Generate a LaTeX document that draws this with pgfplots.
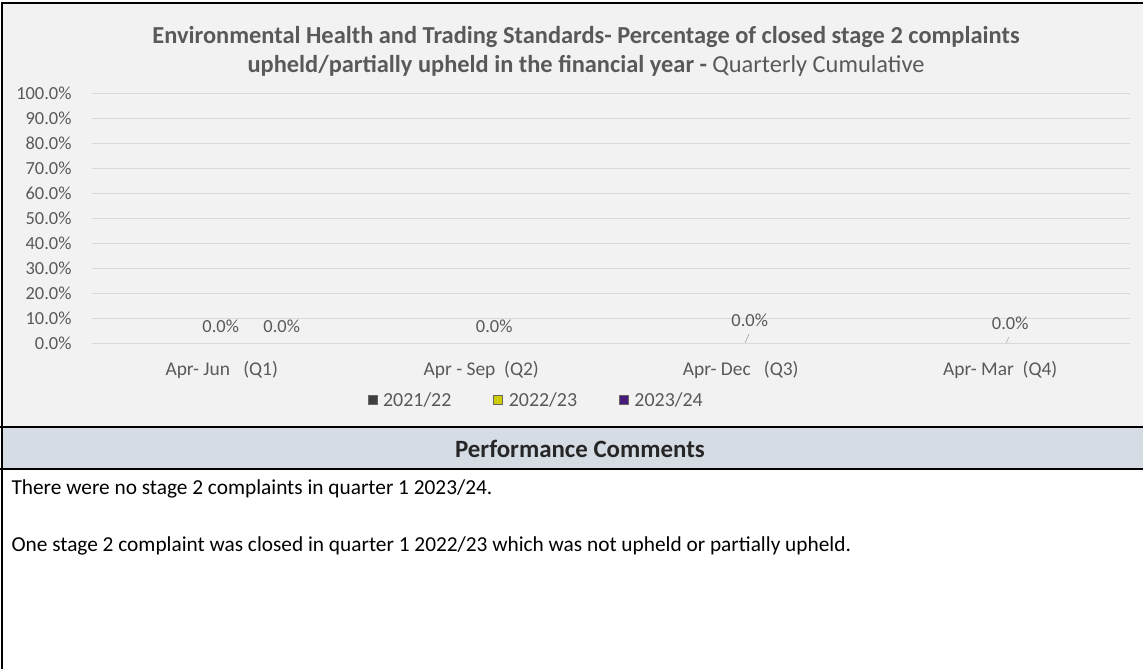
\documentclass[border=0pt]{standalone}
\usepackage{pgfplots}
\pgfplotsset{compat=1.18}
\usepackage{pgfplotstable}
\usepackage{fontspec}
\setmainfont{Carlito}
\definecolor{txt}{HTML}{595959}
\definecolor{bg}{HTML}{F2F2F2}
\definecolor{band}{HTML}{D6DCE4}
\definecolor{gridc}{HTML}{D9D9D9}
\definecolor{sA}{HTML}{404040}
\definecolor{sB}{HTML}{CCCC00}
\definecolor{sC}{HTML}{4B1C7A}

% x = quarter centre, y = value (%), dx/dy = label offsets (bp)
\pgfplotstableread{
x   y  dx  dy
0.5 0  -1  17
1.5 0  13  17
2.5 0   9  23
3.5 0  10  20
}\seriesB
\pgfplotstableread{
x   y  dx  dy
0.5 0  60  17
}\seriesC

\begin{document}
\begin{tikzpicture}[x=1bp,y=1bp]
\useasboundingbox (0,0) rectangle (1143,669);
\fill[white] (0,0) rectangle (1143,669);
\fill[bg] (2,242) rectangle (1143,666);
\fill[band] (2,200) rectangle (1143,242);
\draw[black,line width=2.5bp] (0,242) -- (1143,242);
\draw[black,line width=2.5bp] (0,200) -- (1143,200);
\draw[black,line width=2.5bp] (2,0) -- (2,666) -- (1143,666);

\node[txt,font=\bfseries\fontsize{24.5}{28}\selectfont] at (586,632)
  {Environmental Health and Trading Standards- Percentage of closed stage 2 complaints};
\node[txt,font=\fontsize{24.5}{28}\selectfont] at (586,603)
  {\textbf{upheld/partially upheld in the financial year -} Quarterly Cumulative};

\begin{axis}[
  at={(92bp,326bp)}, anchor=south west, scale only axis,
  width=1038bp, height=250bp,
  xmin=0, xmax=4, ymin=0, ymax=100,
  ytick={0,10,...,100},
  xtick={0.5,1.5,2.5,3.5},
  xticklabels={Apr- Jun\ \ \ (Q1), Apr - Sep\ \ (Q2), Apr- Dec\ \ \ (Q3), Apr- Mar\ \ (Q4)},
  /pgf/number format/assume math mode=true,
  yticklabel={\pgfmathprintnumber[fixed,fixed zerofill,precision=1]{\tick}\%},
  yticklabel style={txt,font=\fontsize{18.5}{22}\selectfont,xshift=-17bp},
  xticklabel style={txt,font=\fontsize{19.5}{22}\selectfont,yshift=-15bp},
  axis line style={draw=none},
  major tick length=0pt,
  ymajorgrids, grid style={gridc,line width=0.9bp},
  ybar=0pt, bar width=60bp,
  clip=false,
  nodes near coords={\pgfmathprintnumber[fixed,fixed zerofill,precision=1]{\pgfplotspointmeta}\%},
  visualization depends on={\thisrow{dx} \as \ldx},
  visualization depends on={\thisrow{dy} \as \ldy},
  every node near coord/.style={anchor=center,xshift=\ldx bp,yshift=\ldy bp,
      font=\fontsize{18.5}{22}\selectfont,text=txt},
  legend columns=3,
  legend style={draw=none,fill=none,at={(0.428,-0.228)},anchor=center,
     font=\fontsize{20}{22}\selectfont,text=txt,
     /tikz/every even column/.append style={column sep=40bp},
     /tikz/every odd column/.append style={column sep=4bp}},
  legend image code/.code={\draw[#1,draw=black!60] (0bp,-4.5bp) rectangle (9bp,4.5bp);},
]
\addlegendimage{fill=sA}
\addlegendentry{2021/22}
\addlegendimage{fill=sB}
\addlegendentry{2022/23}
\addlegendimage{fill=sC}
\addlegendentry{2023/24}
\addplot[draw=none,fill=none,bar shift=0bp,forget plot] table[x=x,y=y] {\seriesB};
\addplot[draw=none,fill=none,bar shift=0bp,forget plot] table[x=x,y=y] {\seriesC};
\end{axis}

\draw[black!45] (749,335) -- (745,326);
\draw[black!45] (1009,332) -- (1006,326);

\node[txt,font=\bfseries\fontsize{25}{28}\selectfont,text=black!85] at (580,220) {Performance Comments};
\node[anchor=west,font=\fontsize{21.4}{25}\selectfont,text=black] at (8,180)
  {There were no stage 2 complaints in quarter 1 2023/24.};
\node[anchor=west,font=\fontsize{21.4}{25}\selectfont,text=black] at (8,123)
  {One stage 2 complaint was closed in quarter 1 2022/23 which was not upheld or partially upheld.};
\end{tikzpicture}
\end{document}
